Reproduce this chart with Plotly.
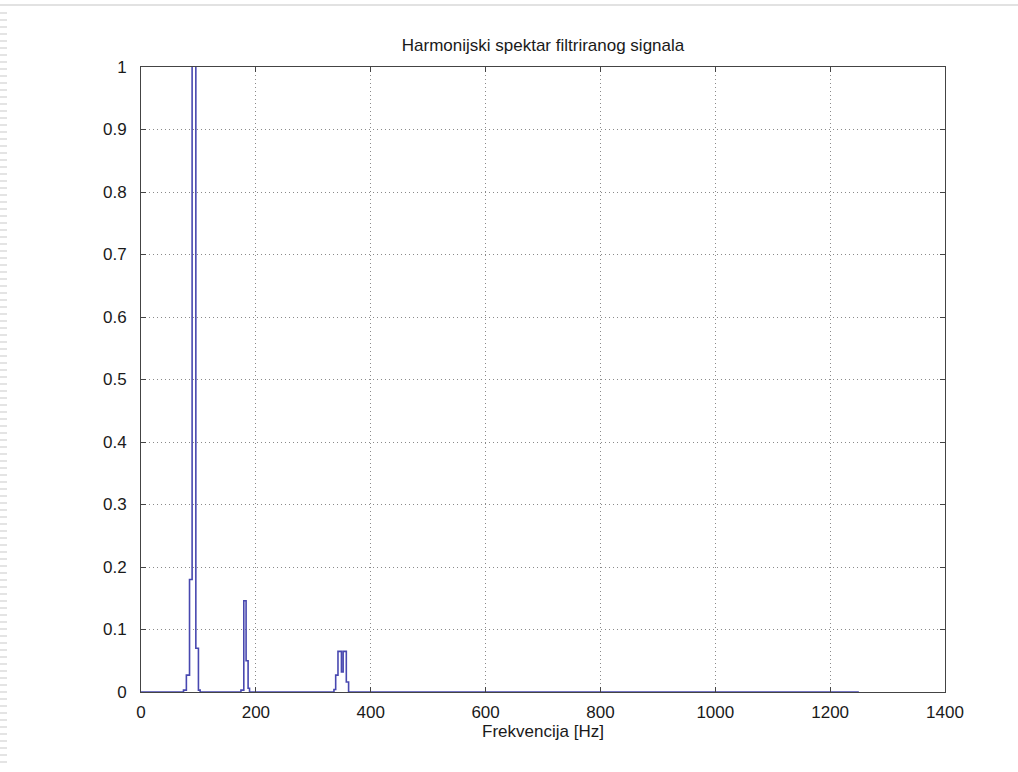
import plotly.graph_objects as go

# Stair-step harmonic spectrum (MATLAB stairs style)
freq_hz = [0, 74, 79, 84.5, 89, 95.5, 100, 103,
           174, 179, 183, 186.5, 189,
           336, 339, 343, 349, 352, 357.5, 361.5, 1250]
amplitude = [0, 0.003, 0.027, 0.18, 1.6, 0.07, 0.003, 0,
             0.003, 0.146, 0.05, 0.006, 0,
             0.004, 0.027, 0.065, 0.032, 0.065, 0.016, 0, 0]

x_ticks = [0, 200, 400, 600, 800, 1000, 1200, 1400]
y_ticks = [0, 0.1, 0.2, 0.3, 0.4, 0.5, 0.6, 0.7, 0.8, 0.9, 1]
y_tick_labels = ["0", "0.1", "0.2", "0.3", "0.4", "0.5", "0.6", "0.7", "0.8", "0.9", "1"]

FAM = "Liberation Sans, Arial, Helvetica, sans-serif"
font = dict(family=FAM, size=17, color="#1a1a1a")

fig = go.Figure()
fig.add_trace(go.Scatter(
    x=freq_hz, y=amplitude, mode="lines",
    line=dict(color="#4848b0", width=1.6, shape="hv"),
    hoverinfo="skip", showlegend=False,
))

axis_common = dict(
    showline=True, linecolor="#444444", linewidth=1, mirror="ticks",
    ticks="inside", ticklen=5, tickcolor="#444444",
    showgrid=True, gridcolor="#8a8a8a", griddash="1px,3px", gridwidth=1,
    zeroline=False, tickfont=font,
)

fig.update_layout(
    width=1018, height=772,
    margin=dict(l=141, r=73, t=67, b=80),
    paper_bgcolor="white", plot_bgcolor="white",
    title=dict(text="Harmonijski spektar filtriranog signala",
               x=(141 + 945) / 2 / 1018, xanchor="center",
               y=1 - 45 / 772, yanchor="middle",
               font=dict(family=FAM, size=17, color="#1a1a1a")),
    xaxis=dict(range=[0, 1400], tickvals=x_ticks, ticktext=[str(v) for v in x_ticks],
               ticklabelstandoff=5,
               title=dict(text="Frekvencija [Hz]", standoff=2,
                          font=dict(family=FAM, size=17, color="#1a1a1a")),
               **axis_common),
    yaxis=dict(range=[0, 1], tickvals=y_ticks, ticktext=y_tick_labels,
               ticklabelstandoff=10, **axis_common),
)

# page artefacts: light top rule and dashed left strip
fig.add_shape(type="line", xref="paper", yref="paper",
              x0=-141 / 804, x1=(1018 - 141) / 804,
              y0=(692 - 5) / 625, y1=(692 - 5) / 625,
              line=dict(color="#e2e2e2", width=2), layer="below")
fig.add_shape(type="line", xref="paper", yref="paper",
              x0=(3.5 - 141) / 804, x1=(3.5 - 141) / 804,
              y0=(692 - 12) / 625, y1=(692 - 765) / 625,
              line=dict(color="#e4e4e4", width=7, dash="2px,5px"), layer="below")

fig.write_html("out.html")
